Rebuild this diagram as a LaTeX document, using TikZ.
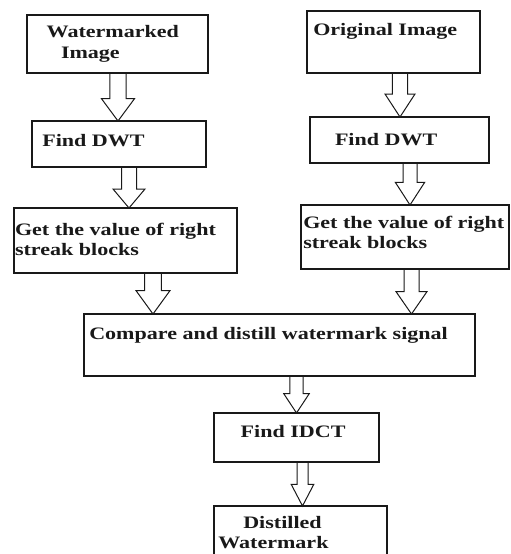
\documentclass[tikz,border=0pt]{standalone}
\usepackage{fontspec}
\setmainfont{Liberation Serif}[FakeStretch=1.26]
\usetikzlibrary{calc}
\tikzset{
  box/.style={draw=black!90, line width=1.3pt, inner sep=0pt, outer sep=0pt, anchor=north west, fill=white},
  txt/.style={anchor=base west, inner sep=0pt, outer sep=0pt, text=black!90, font=\fontsize{17.5}{21}\selectfont\bfseries},
  arw/.style={draw=black!90, line width=1pt, line join=miter}
}
\newcommand\barrow[6]{%
  \draw[arw] let \p1=(#1.south), \p2=(#2.north) in
    ({#3pt-#4pt},\y1) -- ({#3pt-#4pt},{\y2+#6pt}) -- ({#3pt-#5pt},{\y2+#6pt}) -- (#3pt,\y2)
    -- ({#3pt+#5pt},{\y2+#6pt}) -- ({#3pt+#4pt},{\y2+#6pt}) -- ({#3pt+#4pt},\y1);
}
\begin{document}
\begin{tikzpicture}[x=1pt,y=-1pt]
\useasboundingbox (0,0) rectangle (511,554);
\clip (0,0) rectangle (511,554);
\fill[white] (0,0) rectangle (511,554);
% boxes
\node[box, minimum width=181pt, minimum height=58pt] (wm)   at (27,15)  {};
\node[box, minimum width=174pt, minimum height=46pt] (dwtl) at (32,121) {};
\node[box, minimum width=223pt, minimum height=65pt] (gvl)  at (14,208) {};
\node[box, minimum width=173pt, minimum height=62pt] (orig) at (307,11) {};
\node[box, minimum width=179pt, minimum height=46pt] (dwtr) at (310,117) {};
\node[box, minimum width=208pt, minimum height=64pt] (gvr)  at (301,205) {};
\node[box, minimum width=391pt, minimum height=62pt] (cmp)  at (84,314) {};
\node[box, minimum width=165pt, minimum height=49pt] (idct) at (214,413) {};
\node[box, minimum width=173pt, minimum height=80pt] (dist) at (214,506) {};
% texts
\node[txt] (t1) at (46.7,37.3) {Watermarked};
\node[txt] (t2) at (61,58) {Image};
\node[txt] (t3) at (42.3,146) {Find DWT};
\node[txt] (t4) at (15,235) {Get the value of right};
\node[txt] (t5) at (15,255.5) {streak blocks};
\node[txt] (t6) at (313.3,35.7) {Original Image};
\node[txt] (t7) at (335,145) {Find DWT};
\node[txt] (t8) at (303.3,228) {Get the value of right};
\node[txt] (t9) at (303.3,248.5) {streak blocks};
\node[txt] (t10) at (89.3,339.3) {Compare and distill watermark signal};
\node[txt] (t11) at (240.7,437.7) {Find IDCT};
\node[txt] (t12) at (243.3,528.3) {Distilled};
\node[txt] (t13) at (218.3,548.3) {Watermark};
% block arrows
\barrow{wm}{dwtl}{118}{8.2}{16.5}{22.3}
\barrow{dwtl}{gvl}{129}{7.5}{16}{19}
\barrow{orig}{dwtr}{400}{7.7}{15}{23}
\barrow{dwtr}{gvr}{410}{7}{14.7}{22.7}
\barrow{gvl}{cmp}{153}{8.3}{17}{23.4}
\barrow{gvr}{cmp}{411.5}{7.5}{15.5}{22.4}
\barrow{cmp}{idct}{296.5}{6.7}{12.8}{19.4}
\barrow{idct}{dist}{302.5}{5.5}{11.3}{21.7}
\end{tikzpicture}
\end{document}
